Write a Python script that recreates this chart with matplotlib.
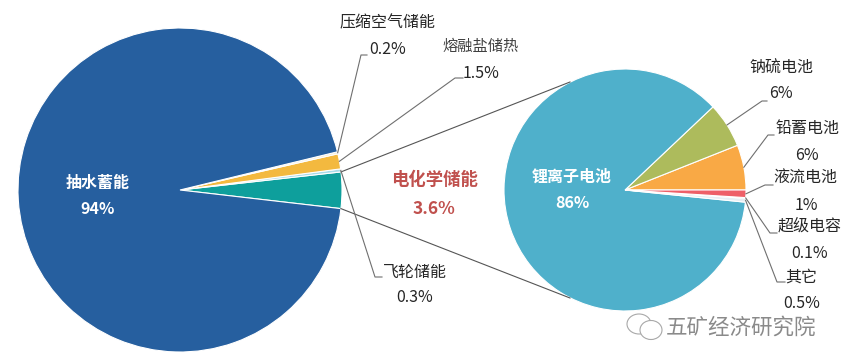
import numpy as np
import matplotlib
matplotlib.use('Agg')
import matplotlib.pyplot as plt
from matplotlib.patches import Ellipse

plt.rcParams['font.family'] = ['Noto Sans CJK SC', 'DejaVu Sans']

# Overall storage mix, counter-clockwise from the electrochemical slice
mainNames = ['电化学储能', '飞轮储能', '熔融盐储热', '压缩空气储能', '抽水蓄能']
mainValues = [3.6, 0.3, 1.5, 0.2, 94]
mainLabels = ['3.6%', '0.3%', '1.5%', '0.2%', '94%']
mainColors = ['#0e9f9c', '#a8dbe8', '#f3b93f', '#f4ead0', '#265f9f']

# Breakdown of electrochemical storage, counter-clockwise from 3 o'clock
subNames = ['铅蓄电池', '钠硫电池', '锂离子电池', '其它', '超级电容', '液流电池']
subValues = [6, 6, 86, 0.5, 0.1, 1]
subLabels = ['6%', '6%', '86%', '0.5%', '0.1%', '1%']
subColors = ['#f9a945', '#adbb5c', '#4fb0cb', '#e8eef4', '#6a70c4', '#ee5f68']

W, H = 842, 364
mainCenter = (180, 190)
mainRadius = 162
subCenter = (625, 190)
subRadius = 121


def Y(y):
    # picture coordinates have y going down
    return H - y


def rim(wedge, center, radius, position=0.5):
    # point on the rim of a slice
    angle = np.radians(wedge.theta1 + (wedge.theta2 - wedge.theta1) * position)
    return center[0] + radius * np.cos(angle), Y(center[1]) + radius * np.sin(angle)


def leader(start, elbow, end):
    ax.plot([start[0], elbow[0], end[0]], [start[1], Y(elbow[1]), Y(end[1])],
            color='#6f6f6f', lw=0.8, zorder=1)


fig = plt.figure(figsize=(W / 100, H / 100), dpi=100)
ax = fig.add_axes([0, 0, 1, 1])

mainWedges, _ = ax.pie(mainValues, colors=mainColors, startangle=-6.6, radius=mainRadius,
                       center=(mainCenter[0], Y(mainCenter[1])), frame=True,
                       wedgeprops={'edgecolor': 'white', 'linewidth': 0.8})
subWedges, _ = ax.pie(subValues, colors=subColors, startangle=0, radius=subRadius,
                      center=(subCenter[0], Y(subCenter[1])), frame=True,
                      wedgeprops={'edgecolor': 'white', 'linewidth': 0.8})
ax.set_xlim(0, W)
ax.set_ylim(0, H)
ax.set_aspect('equal')
ax.axis('off')

# Lines joining the electrochemical slice to the second pie
topStart = rim(mainWedges[0], mainCenter, mainRadius, 1)
bottomStart = rim(mainWedges[0], mainCenter, mainRadius, 0)
ax.plot([topStart[0], 570], [topStart[1], Y(82)], color='#555555', lw=0.8, zorder=1)
ax.plot([bottomStart[0], 570], [bottomStart[1], Y(298)], color='#555555', lw=0.8, zorder=1)

# Leaders of the small slices
leader(rim(mainWedges[3], mainCenter, mainRadius), (361, 55), (367, 55))
leader(rim(mainWedges[2], mainCenter, mainRadius), (455, 78), (463, 78))
leader(rim(mainWedges[1], mainCenter, mainRadius), (375, 277), (382, 277))
leader(rim(subWedges[1], subCenter, subRadius), (762, 101), (767, 101))
leader(rim(subWedges[0], subCenter, subRadius), (768, 135), (774, 135))
leader(rim(subWedges[5], subCenter, subRadius), (765, 185), (773, 185))
leader(rim(subWedges[4], subCenter, subRadius), (770, 233), (777, 233))
leader(rim(subWedges[3], subCenter, subRadius), (777, 282), (785, 282))


def note(x, y, text, **kw):
    style = {'fontsize': 11.5, 'color': '#262626', 'ha': 'center', 'va': 'center'}
    style.update(kw)
    ax.text(x, Y(y), text, **style)


# Names and values outside the pies
note(388, 23, mainNames[3])
note(388, 50, mainLabels[3])
note(481, 46, mainNames[2], color='#404040', fontsize=11)
note(481, 74, mainLabels[2])
note(415, 272, mainNames[1])
note(415, 298, mainLabels[1])
note(781, 68, subNames[1])
note(781, 94, subLabels[1])
note(808, 129, subNames[0])
note(807, 156, subLabels[0])
note(805, 178, subNames[5])
note(806, 205, subLabels[5])
note(810, 226, subNames[4])
note(810, 254, subLabels[4])
note(801, 277, subNames[3])
note(802, 304, subLabels[3])

# Labels inside the pies and the centre note
note(98, 183, mainNames[4], color='white', fontweight='bold')
note(98, 209, mainLabels[4], color='white', fontweight='bold')
note(572, 177, subNames[2], color='white', fontweight='bold')
note(572, 203, subLabels[2], color='white', fontweight='bold')
note(434, 180, mainNames[0], color='#c0504d', fontweight='bold', fontsize=12.5)
note(434, 209, mainLabels[0], color='#c0504d', fontweight='bold', fontsize=12.5)

# Watermark
ax.add_patch(Ellipse((639, Y(324)), 24, 20, facecolor='none', ec='#a8a8a8', lw=0.8))
ax.add_patch(Ellipse((651, Y(330)), 22, 19, facecolor='white', ec='#a8a8a8', lw=0.8))
note(741, 328, '五矿经济研究院', fontsize=15.5, color='#8a8a8a')

fig.savefig('out.png', dpi=100)
